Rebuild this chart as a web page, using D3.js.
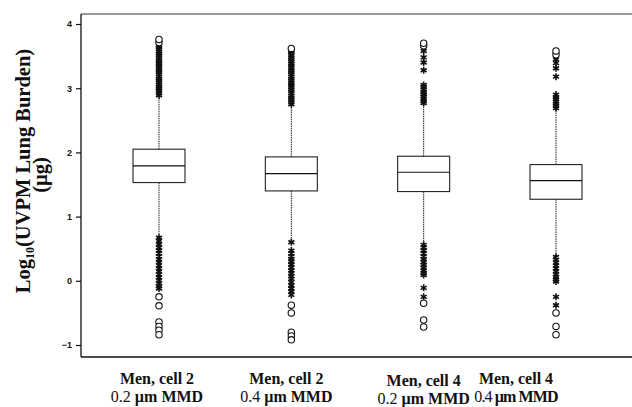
<!DOCTYPE html>
<html>
<head>
<meta charset="utf-8">
<script src="https://cdn.jsdelivr.net/npm/d3@7"></script>
<style>
  html, body { margin: 0; padding: 0; background: #fff; }
  svg { display: block; }
</style>
</head>
<body>
<script>
// Groups along the x axis
const groups = ["c2_02", "c2_04", "c4_02", "c4_04"];
const labelLine1 = ["Men, cell 2", "Men, cell 2", "Men, cell 4", "Men, cell 4"];
const labelSize = ["0.2", "0.4", "0.2", "0.4"];

// Box statistics, log10 µg
const q1 = [1.53, 1.40, 1.39, 1.27];
const median = [1.79, 1.67, 1.69, 1.56];
const q3 = [2.05, 1.93, 1.94, 1.81];
const whiskerLow = [0.71, 0.62, 0.59, 0.40];
const whiskerHigh = [2.87, 2.72, 2.74, 2.66];

// Outside values (asterisks) and far outside values (open circles)
const starsG1 = [2.89, 2.92, 2.96, 2.99, 3.02, 3.05, 3.09, 3.12, 3.15, 3.18, 3.22, 3.25, 3.28, 3.31, 3.35, 3.38, 3.41, 3.44, 3.48, 3.51, 3.54, 3.57, 3.61, 3.64, 3.67,
                 0.67, 0.62, 0.57, 0.52, 0.47, 0.43, 0.38, 0.33, 0.29, 0.24, 0.19, 0.15, 0.10, 0.05, 0.01, -0.04, -0.08, -0.12];
const circlesG1 = [3.71, 3.76, -0.25, -0.39, -0.64, -0.71, -0.77, -0.84];

const starsG2 = [2.75, 2.78, 2.82, 2.85, 2.88, 2.92, 2.95, 2.98, 3.02, 3.05, 3.08, 3.12, 3.15, 3.18, 3.22, 3.25, 3.28, 3.32, 3.35, 3.38, 3.42, 3.45, 3.48, 3.52, 3.55, 3.58,
                 0.60, 0.47, 0.43, 0.38, 0.34, 0.30, 0.25, 0.21, 0.16, 0.12, 0.07, 0.03, -0.02, -0.07, -0.12, -0.17, -0.22];
const circlesG2 = [3.62, -0.38, -0.50, -0.80, -0.86, -0.92];

const starsG3 = [2.77, 2.80, 2.84, 2.87, 2.91, 2.94, 2.98, 3.02, 3.05, 3.28, 3.40, 3.48, 3.58,
                 0.56, 0.52, 0.47, 0.43, 0.38, 0.34, 0.29, 0.25, 0.20, 0.16, 0.12, 0.09, -0.11, -0.25];
const circlesG3 = [3.66, 3.70, -0.35, -0.61, -0.72];

const starsG4 = [2.69, 2.72, 2.76, 2.79, 2.83, 2.86, 2.90, 3.18, 3.31, 3.39, 3.45,
                 0.37, 0.33, 0.28, 0.24, 0.19, 0.15, 0.10, 0.06, 0.02, -0.01, -0.25, -0.38];
const circlesG4 = [3.52, 3.58, -0.50, -0.71, -0.84];

const yTicks = [4, 3, 2, 1, 0, -1];

const stars = [starsG1, starsG2, starsG3, starsG4];
const circles = [circlesG1, circlesG2, circlesG3, circlesG4];

const W = 632, H = 407;
const frame = { left: 81, top: 14, bottom: 357, right: 640 };

const svg = d3.select("body").append("svg")
  .attr("width", W).attr("height", H);

const y = d3.scaleLinear().domain([-1, 4]).range([345, 24]);
const x = d3.scalePoint().domain(groups).range([159, 556]);
const boxW = 52;

// Frame
svg.append("line").attr("x1", frame.left).attr("x2", frame.left)
  .attr("y1", frame.top).attr("y2", frame.bottom)
  .attr("stroke", "#111").attr("stroke-width", 1.3);
svg.append("line").attr("x1", frame.left).attr("x2", frame.right)
  .attr("y1", frame.top).attr("y2", frame.top)
  .attr("stroke", "#333").attr("stroke-width", 1.1);
svg.append("line").attr("x1", frame.left).attr("x2", frame.right)
  .attr("y1", frame.bottom).attr("y2", frame.bottom)
  .attr("stroke", "#111").attr("stroke-width", 1.4);

// Y axis
const yAxis = d3.axisLeft(y).tickValues(yTicks).tickFormat(d3.format("d"))
  .tickSize(5).tickPadding(4);
const gy = svg.append("g").attr("transform", `translate(${frame.left},0)`).call(yAxis);
gy.select(".domain").remove();
gy.selectAll(".tick line").attr("stroke", "#111").attr("stroke-width", 1.2);
gy.selectAll(".tick text")
  .attr("font-family", "'Liberation Sans', Arial, sans-serif")
  .attr("font-weight", "bold").attr("font-size", 9).attr("fill", "#111");

// Y title
const titleFont = "'Liberation Serif', 'Times New Roman', serif";
const yTitle = svg.append("text")
  .attr("transform", "translate(30,171) rotate(-90)")
  .attr("text-anchor", "middle")
  .attr("font-family", titleFont)
  .attr("font-weight", "bold").attr("font-size", 20.5).attr("fill", "#111");
yTitle.append("tspan").text("Log");
yTitle.append("tspan").attr("font-size", 12).attr("dy", 4).text("10");
yTitle.append("tspan").attr("dy", -4).text("(UVPM Lung Burden)");
svg.append("text")
  .attr("transform", "translate(47,175) rotate(-90)")
  .attr("text-anchor", "middle")
  .attr("font-family", titleFont)
  .attr("font-weight", "bold").attr("font-size", 20.5).attr("fill", "#111")
  .text("(\u00b5g)");

// Boxes
const g = svg.append("g");
groups.forEach((key, i) => {
  const cx = x(key);
  // whiskers
  g.append("line").attr("x1", cx).attr("x2", cx)
    .attr("y1", y(q3[i])).attr("y2", y(whiskerHigh[i]))
    .attr("stroke", "#222").attr("stroke-width", 1).attr("stroke-dasharray", "1.5,0.8");
  g.append("line").attr("x1", cx).attr("x2", cx)
    .attr("y1", y(q1[i])).attr("y2", y(whiskerLow[i]))
    .attr("stroke", "#222").attr("stroke-width", 1).attr("stroke-dasharray", "1.5,0.8");
  // box
  g.append("rect").attr("x", cx - boxW / 2).attr("width", boxW)
    .attr("y", y(q3[i])).attr("height", y(q1[i]) - y(q3[i]))
    .attr("fill", "none").attr("stroke", "#222").attr("stroke-width", 1.1);
  g.append("line").attr("x1", cx - boxW / 2).attr("x2", cx + boxW / 2)
    .attr("y1", y(median[i])).attr("y2", y(median[i]))
    .attr("stroke", "#111").attr("stroke-width", 1.1);
  // outside values
  g.selectAll(null).data(stars[i]).join("path")
    .attr("transform", d => `translate(${cx},${y(d)})`)
    .attr("d", d3.symbol(d3.symbolAsterisk, 34))
    .attr("fill", "none").attr("stroke", "#111").attr("stroke-width", 1.6);
  g.selectAll(null).data(circles[i]).join("circle")
    .attr("cx", cx).attr("cy", d => y(d)).attr("r", 3.2)
    .attr("fill", "#fff").attr("stroke", "#111").attr("stroke-width", 1.1);
});

// Category labels
const labelShift = [-2, -5, 0, -40];
const labelDrop = [0, 0, 2, 0];
const labelTight = [0, 0, 0, -0.9];
groups.forEach((key, i) => {
  const lx = x(key) + labelShift[i];
  svg.append("text")
    .attr("text-anchor", "middle")
    .attr("font-family", titleFont)
    .attr("font-size", 16).attr("fill", "#111")
    .attr("font-weight", "bold")
    .attr("x", lx).attr("y", 384 + labelDrop[i])
    .text(labelLine1[i]);
  const l2 = svg.append("text")
    .attr("text-anchor", "middle")
    .attr("font-family", titleFont)
    .attr("font-size", 16).attr("fill", "#111")
    .attr("letter-spacing", labelTight[i])
    .attr("x", lx).attr("y", 402 + labelDrop[i]);
  l2.append("tspan").text(labelSize[i] + " ");
  l2.append("tspan").attr("font-weight", "bold").text("\u00b5m MMD");
});
</script>
</body>
</html>
